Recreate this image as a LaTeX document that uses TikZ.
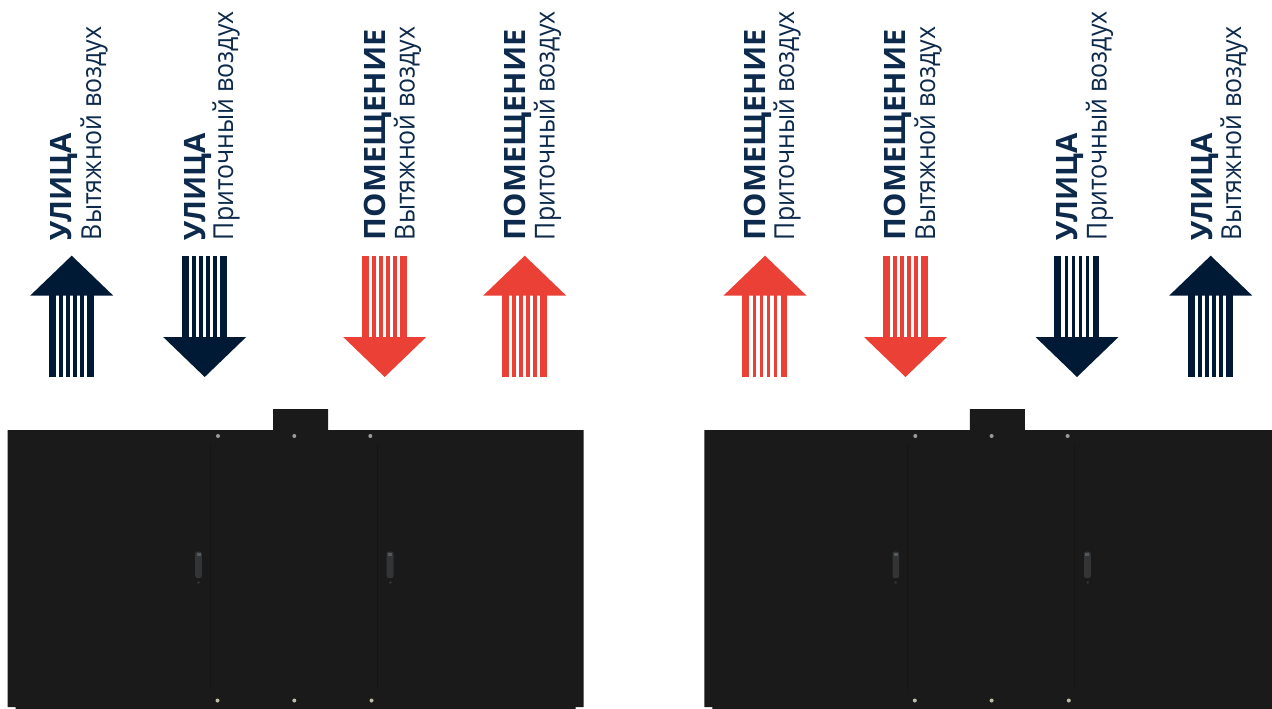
\documentclass[tikz,border=0pt]{standalone}
\usepackage{fontspec}
\setmainfont{Open Sans}
\definecolor{navy}{HTML}{001A35}
\definecolor{redc}{HTML}{EA4036}
\definecolor{bodyc}{HTML}{1A1A1A}
\definecolor{labelc}{HTML}{0D2A4C}
\definecolor{seam}{HTML}{151515}
\definecolor{handlec}{HTML}{323436}
\definecolor{handletop}{HTML}{55585A}
\definecolor{dottop}{HTML}{9A9A9A}
\definecolor{dotbot}{HTML}{C0BCA8}
\tikzset{
  titlelabel/.style={rotate=90,anchor=base west,inner sep=0pt,outer sep=0pt,text=labelc,font=\fontsize{29.4}{29.4}\bfseries\selectfont},
  sublabel/.style={rotate=90,anchor=base west,inner sep=0pt,outer sep=0pt,text=labelc,font=\fontsize{27.5}{27.5}\selectfont},
  cabinet/.style={fill=bodyc,draw=none},
  rivettop/.style={circle,fill=dottop,minimum size=4pt,inner sep=0pt,draw=none},
  rivetbot/.style={circle,fill=dotbot,minimum size=4pt,inner sep=0pt,draw=none},
  handlebar/.style={fill=handlec,draw=none,rounded corners=2pt}
}
\newcommand{\wideword}[1]{\scalebox{1.045}[1]{#1}}
\newcommand{\narrowline}[1]{\scalebox{.905}[1]{#1}}
\newcommand{\stripes}[4]{%
  \fill[#4] (#1-23,#2) rectangle (#1-15.7,#3);
  \fill[#4] (#1-12.3,#2) rectangle (#1-8.7,#3);
  \fill[#4] (#1-5.3,#2) rectangle (#1-1.7,#3);
  \fill[#4] (#1+1.7,#2) rectangle (#1+5.3,#3);
  \fill[#4] (#1+8.7,#2) rectangle (#1+12.3,#3);
  \fill[#4] (#1+15.7,#2) rectangle (#1+22.3,#3);
}
\newcommand{\uparr}[2]{%
  \stripes{#1}{295}{377}{#2}
  \fill[#2] (#1,255.7) -- (#1+41.5,295.6) -- (#1-41.5,295.6) -- cycle;
}
\newcommand{\downarr}[2]{%
  \stripes{#1}{255.7}{338}{#2}
  \fill[#2] (#1,377) -- (#1+41.5,337) -- (#1-41.5,337) -- cycle;
}
\newcommand{\cab}[2]{%
  \fill[cabinet] (#1,430) -- (#1+265.5,430) -- (#1+265.5,409) -- (#1+320.5,409) -- (#1+320.5,430) -- (#1+576,430) -- (#1+576,707) -- (#1+568,707) -- (#1+568,709) -- (#1+8,709) -- (#1+8,707) -- (#1,707) -- cycle;
  \draw[seam,line width=.7pt] (#1+202.7,445) -- (#1+202.7,690) (#1+369.7,445) -- (#1+369.7,690);
  \node[rivettop] at (#1+210.5+#2,436) {};
  \node[rivettop] at (#1+286.8+#2,436) {};
  \node[rivettop] at (#1+362.8+#2,436) {};
  \node[rivetbot] at (#1+210+#2,700.5) {};
  \node[rivetbot] at (#1+286.8+#2,700.5) {};
  \node[rivetbot] at (#1+364+#2,700.5) {};
  \fill[handlebar] (#1+187.7+#2,551.7) rectangle (#1+194.3+#2,578);
  \fill[handletop] (#1+189+#2,552.5) rectangle (#1+193+#2,556);
  \fill[handlec] (#1+191+#2,582.5) circle (1.4);
  \fill[handlebar] (#1+379.2+#2,551.7) rectangle (#1+386+#2,578);
  \fill[handletop] (#1+380.5+#2,552.5) rectangle (#1+384.5+#2,556);
  \fill[handlec] (#1+383+#2,582.5) circle (1.4);
}
\begin{document}
\begin{tikzpicture}[x=1pt,y=-1pt]
\useasboundingbox (0,0) rectangle (1272,709);
\fill[white] (0,0) rectangle (1272,709);
\cab{7.5}{0}
\cab{704.3}{0.5}
\uparr{71.7}{navy}
\downarr{204.7}{navy}
\downarr{384.7}{redc}
\uparr{524.7}{redc}
\uparr{765}{redc}
\downarr{905.5}{redc}
\downarr{1077}{navy}
\uparr{1210.7}{navy}
\node[titlelabel] (t1) at (71.7,240) {УЛИЦА};
\node[sublabel] (s1) at (101,240) {\narrowline{Вытяжной воздух}};
\node[titlelabel] (t2) at (205,240) {УЛИЦА};
\node[sublabel] (s2) at (233,240) {\narrowline{Приточный воздух}};
\node[titlelabel] (t3) at (385.5,240) {\wideword{ПОМЕЩЕНИЕ}};
\node[sublabel] (s3) at (414.5,240) {\narrowline{Вытяжной воздух}};
\node[titlelabel] (t4) at (525.5,240) {\wideword{ПОМЕЩЕНИЕ}};
\node[sublabel] (s4) at (554.5,240) {\narrowline{Приточный воздух}};
\node[titlelabel] (t5) at (765,240) {\wideword{ПОМЕЩЕНИЕ}};
\node[sublabel] (s5) at (794,240) {\narrowline{Приточный воздух}};
\node[titlelabel] (t6) at (905.5,240) {\wideword{ПОМЕЩЕНИЕ}};
\node[sublabel] (s6) at (935,240) {\narrowline{Вытяжной воздух}};
\node[titlelabel] (t7) at (1077.5,240) {УЛИЦА};
\node[sublabel] (s7) at (1106.5,240) {\narrowline{Приточный воздух}};
\node[titlelabel] (t8) at (1212,240) {УЛИЦА};
\node[sublabel] (s8) at (1241,240) {\narrowline{Вытяжной воздух}};
\end{tikzpicture}
\end{document}
